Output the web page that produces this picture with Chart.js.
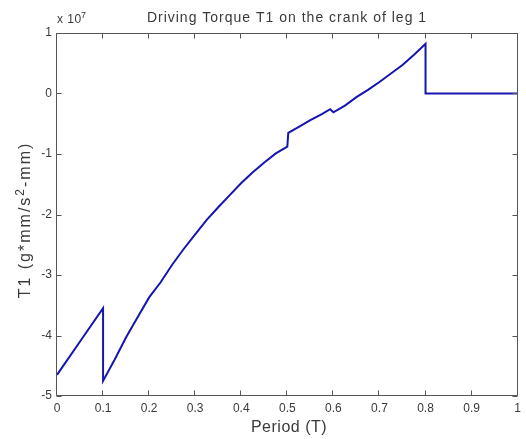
<!DOCTYPE html>
<html>
<head>
<meta charset="utf-8">
<script src="https://cdn.jsdelivr.net/npm/chart.js@4.4.1/dist/chart.umd.min.js"></script>
<style>
    html, body { margin: 0; padding: 0; background: #fff; }
    canvas { display: block; }
</style>
</head>
<body>
<canvas id="chart-torque" width="526" height="439"></canvas>
<script>
(function () {
    // ===== 데이터 (T1, 단위 x 10^7) =====
    const periodValues = [0, 0.05, 0.1, 0.1, 0.125, 0.15, 0.175, 0.2, 0.225, 0.25, 0.275, 0.3, 0.325, 0.35, 0.375, 0.4, 0.425, 0.45, 0.475, 0.5,
        0.502, 0.525, 0.55, 0.575, 0.593, 0.6, 0.625, 0.65, 0.675, 0.7, 0.725, 0.75, 0.775, 0.8, 0.8, 0.9, 1];
    const torqueValues = [-4.65, -4.10, -3.55, -4.75, -4.40, -4.03, -3.70, -3.37, -3.12, -2.83, -2.57, -2.33, -2.09, -1.88, -1.68, -1.48, -1.30, -1.14, -0.99, -0.88,
        -0.65, -0.55, -0.44, -0.34, -0.26, -0.31, -0.20, -0.06, 0.06, 0.19, 0.33, 0.47, 0.64, 0.82, 0, 0, 0];
    const xTicks = [0, 0.1, 0.2, 0.3, 0.4, 0.5, 0.6, 0.7, 0.8, 0.9, 1];
    const yTicks = [1, 0, -1, -2, -3, -4, -5];

    const TEXT_COLOR = '#3a3a3a';
    const AXIS_COLOR = '#555';
    const FONT = 'Arial, "Liberation Sans", sans-serif';

    // ===== MATLAB 스타일 박스 + 안쪽 눈금 =====
    const matlabBox = {
        id: 'matlabBox',
        afterDatasetsDraw: function (chart) {
            var ctx = chart.ctx;
            var a = chart.chartArea;
            var sx = chart.scales.x;
            var sy = chart.scales.y;
            var L = Math.round(a.left) - 0.5, R = Math.round(a.right) - 0.5;
            var T = Math.round(a.top) + 0.5, B = Math.round(a.bottom) - 0.5;
            ctx.save();
            ctx.strokeStyle = AXIS_COLOR;
            ctx.lineWidth = 1;
            ctx.beginPath();
            ctx.rect(L, T, R - L, B - T);
            xTicks.forEach(function (v) {
                var px = Math.round(sx.getPixelForValue(v)) - 0.5;
                ctx.moveTo(px, B); ctx.lineTo(px, B - 5);
                ctx.moveTo(px, T); ctx.lineTo(px, T + 5);
            });
            yTicks.forEach(function (v) {
                var py = Math.round(sy.getPixelForValue(v)) + 0.5;
                ctx.moveTo(L, py); ctx.lineTo(L + 5, py);
                ctx.moveTo(R, py); ctx.lineTo(R - 5, py);
            });
            ctx.stroke();
            ctx.restore();
        },
        afterDraw: function (chart) {
            var ctx = chart.ctx;
            ctx.save();
            ctx.fillStyle = TEXT_COLOR;
            ctx.textBaseline = 'alphabetic';

            // 제목
            ctx.font = '14px ' + FONT;
            ctx.letterSpacing = '1px';
            ctx.textAlign = 'center';
            ctx.fillText('Driving Torque T1 on the crank of leg 1', 287, 22);

            // x 10^7
            ctx.letterSpacing = '0.5px';
            ctx.textAlign = 'left';
            ctx.font = '12px ' + FONT;
            ctx.fillText('x 10', 57, 23);
            ctx.font = '9px ' + FONT;
            ctx.fillText('7', 81, 18);

            // x축 제목
            ctx.font = '16px ' + FONT;
            ctx.letterSpacing = '0.5px';
            ctx.textAlign = 'center';
            ctx.fillText('Period (T)', 289, 432);

            // y축 제목 (2 위첨자)
            ctx.translate(30, 220);
            ctx.rotate(-Math.PI / 2);
            ctx.letterSpacing = '2px';
            ctx.textAlign = 'left';
            var p1 = 'T1 (g*mm/s', p2 = '2', p3 = '-mm)';
            ctx.font = '16px ' + FONT;
            var w1 = ctx.measureText(p1).width, w3 = ctx.measureText(p3).width;
            ctx.font = '12px ' + FONT;
            var w2 = ctx.measureText(p2).width;
            var x0 = -(w1 + w2 + w3) / 2;
            ctx.font = '16px ' + FONT;
            ctx.fillText(p1, x0, 0);
            ctx.font = '12px ' + FONT;
            ctx.fillText(p2, x0 + w1, -6);
            ctx.font = '16px ' + FONT;
            ctx.fillText(p3, x0 + w1 + w2, 0);
            ctx.restore();
        }
    };

    const points = periodValues.map(function (p, i) { return { x: p, y: torqueValues[i] }; });

    new Chart(document.getElementById('chart-torque'), {
        type: 'line',
        data: {
            datasets: [{
                data: points,
                borderColor: '#1515b0',
                borderWidth: 2,
                pointRadius: 0,
                tension: 0,
                fill: false
            }]
        },
        options: {
            responsive: false,
            animation: false,
            devicePixelRatio: 1,
            layout: { padding: { top: 33, right: 5, left: 0, bottom: 0 } },
            plugins: { legend: { display: false }, tooltip: { enabled: false } },
            scales: {
                x: {
                    type: 'linear',
                    min: 0,
                    max: 1,
                    afterBuildTicks: function (scale) { scale.ticks = xTicks.map(function (v) { return { value: v }; }); },
                    afterFit: function (scale) { scale.height = 43; },
                    grid: { display: false, drawTicks: false },
                    border: { display: false },
                    ticks: {
                        padding: 5,
                        color: TEXT_COLOR,
                        font: { family: FONT, size: 12 },
                        maxRotation: 0,
                        autoSkip: false,
                        callback: function (v) { return String(Number(v.toFixed(1))); }
                    }
                },
                y: {
                    type: 'linear',
                    min: -5,
                    max: 1,
                    afterBuildTicks: function (scale) { scale.ticks = yTicks.map(function (v) { return { value: v }; }); },
                    afterFit: function (scale) { scale.width = 57; },
                    grid: { display: false, drawTicks: false },
                    border: { display: false },
                    ticks: {
                        padding: 5,
                        color: TEXT_COLOR,
                        font: { family: FONT, size: 12 },
                        autoSkip: false,
                        callback: function (v) { return String(v); }
                    }
                }
            }
        },
        plugins: [matlabBox]
    });
})();
</script>
</body>
</html>
